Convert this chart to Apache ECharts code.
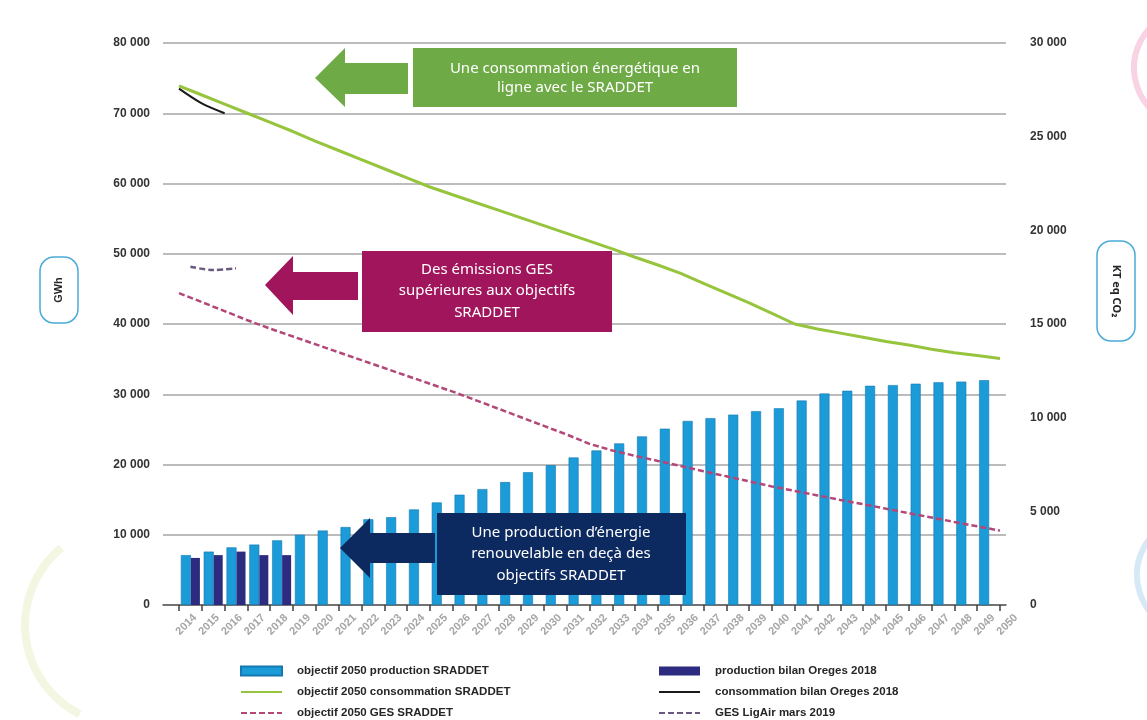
<!DOCTYPE html>
<html>
<head>
<meta charset="utf-8">
<script src="https://cdn.jsdelivr.net/npm/echarts@6.0.0/dist/echarts.min.js"></script>
<style>
  html, body { margin: 0; padding: 0; background: #ffffff; }
  #chart { width: 1147px; height: 720px; }
</style>
</head>
<body>
<div id="chart"></div>
<script>
// ---------- DATA ----------
const years = ['2014','2015','2016','2017','2018','2019','2020','2021','2022','2023','2024','2025','2026','2027','2028','2029','2030','2031','2032','2033','2034','2035','2036','2037','2038','2039','2040','2041','2042','2043','2044','2045','2046','2047','2048','2049','2050'];
const barYears = ['2014','2015','2016','2017','2018','2019','2020','2021','2022','2023','2024','2025','2026','2027','2028','2029','2030','2031','2032','2033','2034','2035','2036','2037','2038','2039','2040','2041','2042','2043','2044','2045','2046','2047','2048','2049'];
// GWh
const prodObjectif = [7100, 7600, 8200, 8600, 9200, 10000, 10600, 11100, 12200, 12500, 13600, 14600, 15700, 16500, 17500, 18900, 19900, 21000, 22000, 23000, 24000, 25100, 26200, 26600, 27100, 27600, 28000, 29100, 30100, 30500, 31200, 31300, 31500, 31700, 31800, 32000];
const prodBilan = [6700, 7100, 7600, 7100, 7100];
const consoObjectif = [73900, 72600, 71300, 70000, 68700, 67400, 66000, 64700, 63400, 62100, 60800, 59500, 58400, 57300, 56200, 55100, 54000, 52900, 51800, 50700, 49500, 48400, 47200, 45800, 44400, 43000, 41500, 40000, 39300, 38700, 38100, 37500, 37000, 36400, 35900, 35500, 35100];
const consoBilan = [73500, 71400, 70000];
// KT eq CO2
const gesObjectif = [16650, 16170, 15690, 15200, 14750, 14330, 13910, 13490, 13070, 12650, 12230, 11810, 11390, 10940, 10480, 10020, 9560, 9100, 8600, 8250, 7960, 7690, 7420, 7140, 6870, 6600, 6330, 6090, 5850, 5610, 5380, 5140, 4900, 4670, 4430, 4200, 3970];
const gesLigAir = [18060, 17880, 17970];

const seriesNames = {
  prodObj: 'objectif 2050 production SRADDET',
  consoObj: 'objectif 2050 consommation SRADDET',
  gesObj: 'objectif 2050 GES SRADDET',
  prodBil: 'production bilan Oreges 2018',
  consoBil: 'consommation bilan Oreges 2018',
  gesLig: 'GES LigAir mars 2019'
};

// ---------- CHART ----------
const fmt = v => String(v).replace(/\B(?=(\d{3})+(?!\d))/g, ' ');
const chart = echarts.init(document.getElementById('chart'), null, { renderer: 'canvas' });

const TOP = 43, HEIGHT = 562;
const legendText = { fontFamily: '"Liberation Sans Narrow", "Arial Narrow", "Liberation Sans", sans-serif', fontWeight: 'bold', fontSize: 11.5, color: '#262626', lineHeight: 14, padding: [0, 0, 0, 10] };
const boxText = { fontFamily: '"Noto Sans", sans-serif', fontSize: 15, fill: '#ffffff', align: 'center', verticalAlign: 'middle' };
const noSymbol = { opacity: 0 };

const option = {
  backgroundColor: '#ffffff',
  animation: false,
  grid: [
    { left: 163, width: 843, top: TOP, height: HEIGHT },   // gridlines & visible y axes
    { left: 179, width: 821, top: TOP, height: HEIGHT },   // data
    { left: 195, width: 821, top: TOP, height: HEIGHT }    // x labels
  ],
  xAxis: [
    { gridIndex: 0, type: 'value', min: 0, max: 1,
      axisLine: { show: true, onZero: false, lineStyle: { color: '#595959', width: 1.5 } },
      axisTick: { show: false }, axisLabel: { show: false }, splitLine: { show: false } },
    { gridIndex: 1, type: 'category', data: years, boundaryGap: false,
      axisLine: { show: false },
      axisTick: { show: true, interval: 0, length: 6, lineStyle: { color: '#404040', width: 1.5 } },
      axisLabel: { show: false }, splitLine: { show: false } },
    { gridIndex: 1, type: 'category', data: barYears, boundaryGap: true, show: false },
    { gridIndex: 2, type: 'category', data: years, boundaryGap: false,
      axisLine: { show: false }, axisTick: { show: false }, splitLine: { show: false },
      axisLabel: { show: true, interval: 0, rotate: 45, margin: 11, color: '#a6a6a6', fontWeight: 'bold', fontSize: 11, fontFamily: '"Liberation Sans", Arial, sans-serif' } }
  ],
  yAxis: [
    { gridIndex: 0, type: 'value', position: 'left', min: 0, max: 80000, interval: 10000,
      axisLine: { show: false }, axisTick: { show: false },
      splitLine: { show: true, lineStyle: { color: '#a6a6a6', width: 1.5 } },
      axisLabel: { margin: 13, color: '#333333', fontWeight: 'bold', fontSize: 12, fontFamily: '"Liberation Sans", Arial, sans-serif', formatter: fmt } },
    { gridIndex: 0, type: 'value', position: 'right', min: 0, max: 30000, interval: 5000,
      axisLine: { show: false }, axisTick: { show: false }, splitLine: { show: false },
      axisLabel: { margin: 24, color: '#333333', fontWeight: 'bold', fontSize: 12, fontFamily: '"Liberation Sans", Arial, sans-serif', formatter: fmt } },
    { gridIndex: 1, type: 'value', min: 0, max: 80000, show: false, splitLine: { show: false } },
    { gridIndex: 1, type: 'value', min: 0, max: 30000, show: false, splitLine: { show: false } },
    { gridIndex: 2, type: 'value', min: 0, max: 1, show: false, splitLine: { show: false } }
  ],
  legend: [
    { orient: 'vertical', left: 240, top: 664, height: 56, padding: 0, itemWidth: 41, itemHeight: 9, itemGap: 7, selectedMode: false,
      textStyle: legendText,
      data: [ { name: seriesNames.prodObj, icon: 'rect' },
              { name: seriesNames.consoObj, itemStyle: noSymbol },
              { name: seriesNames.gesObj, itemStyle: noSymbol } ] },
    { orient: 'vertical', left: 658, top: 664, height: 56, padding: 0, itemWidth: 41, itemHeight: 9, itemGap: 7, selectedMode: false,
      textStyle: legendText,
      data: [ { name: seriesNames.prodBil, icon: 'rect' },
              { name: seriesNames.consoBil, itemStyle: noSymbol },
              { name: seriesNames.gesLig, itemStyle: noSymbol } ] }
  ],
  series: [
    { name: seriesNames.prodObj, type: 'bar', xAxisIndex: 2, yAxisIndex: 2, data: prodObjectif,
      barWidth: 10, barGap: '0%',
      itemStyle: { color: '#1b9bd8', borderColor: '#1479b0', borderWidth: 0.6 } },
    { name: seriesNames.prodBil, type: 'bar', xAxisIndex: 2, yAxisIndex: 2, data: prodBilan,
      barWidth: 9, barGap: '0%',
      itemStyle: { color: '#2d2b80' } },
    { name: seriesNames.consoObj, type: 'line', xAxisIndex: 1, yAxisIndex: 2, data: consoObjectif,
      symbol: 'none', z: 5,
      lineStyle: { color: '#96c43c', width: 3 }, itemStyle: { color: '#96c43c' } },
    { name: seriesNames.consoBil, type: 'line', xAxisIndex: 1, yAxisIndex: 2, data: consoBilan,
      symbol: 'none', smooth: 0.3, z: 6,
      lineStyle: { color: '#1a1a1a', width: 2 }, itemStyle: { color: '#1a1a1a' } },
    { name: seriesNames.gesObj, type: 'line', xAxisIndex: 1, yAxisIndex: 3, data: gesObjectif,
      symbol: 'none', z: 5,
      lineStyle: { color: '#b34777', width: 2.5, type: [6, 3] }, itemStyle: { color: '#b34777' } },
    { name: seriesNames.gesLig, type: 'line', xAxisIndex: 2, yAxisIndex: 3, data: gesLigAir,
      symbol: 'none', smooth: 0.3, z: 5,
      lineStyle: { color: '#6b5880', width: 2.5, type: [6, 3] }, itemStyle: { color: '#6b5880' } }
  ],
  graphic: [
    // faint background decorations
    { type: 'arc', silent: true, z: -10, shape: { cx: 1192, cy: 68, r: 58, startAngle: Math.PI * 0.65, endAngle: Math.PI * 1.35 }, style: { stroke: '#f8d3e3', lineWidth: 6, fill: null } },
    { type: 'arc', silent: true, z: -10, shape: { cx: 1195, cy: 575, r: 58, startAngle: Math.PI * 0.65, endAngle: Math.PI * 1.35 }, style: { stroke: '#d6e9f6', lineWidth: 6, fill: null } },
    { type: 'arc', silent: true, z: -10, shape: { cx: 125, cy: 625, r: 100, startAngle: Math.PI * 0.65, endAngle: Math.PI * 1.28 }, style: { stroke: '#f3f6e0', lineWidth: 8, fill: null } },

    // axis title boxes
    { type: 'rect', z: 10, shape: { x: 40, y: 257, width: 38, height: 66, r: 14 }, style: { fill: '#ffffff', stroke: '#4aabd8', lineWidth: 1.5 } },
    { type: 'text', z: 11, x: 59, y: 290, rotation: Math.PI / 2, style: { text: 'GWh', fontFamily: '"Liberation Sans", Arial, sans-serif', fontWeight: 'bold', fontSize: 11, fill: '#262626', align: 'center', verticalAlign: 'middle' } },
    { type: 'rect', z: 10, shape: { x: 1097, y: 241, width: 38, height: 100, r: 14 }, style: { fill: '#ffffff', stroke: '#4aabd8', lineWidth: 1.5 } },
    { type: 'text', z: 11, x: 1116, y: 291, rotation: -Math.PI / 2, style: { text: 'KT eq CO\u2082', fontFamily: '"Noto Sans", sans-serif', fontWeight: 'bold', fontSize: 11, fill: '#262626', align: 'center', verticalAlign: 'middle' } },

    // green annotation
    { type: 'polygon', z: 20, shape: { points: [[315, 78], [345, 48], [345, 63], [408, 63], [408, 94], [345, 94], [345, 107]] }, style: { fill: '#6eaa45' } },
    { type: 'rect', z: 20, shape: { x: 413, y: 48, width: 324, height: 59 }, style: { fill: '#6eaa45' } },
    { type: 'text', z: 21, x: 575, y: 78, style: Object.assign({ text: 'Une consommation énergétique en\nligne avec le SRADDET', lineHeight: 19 }, boxText) },

    // magenta annotation
    { type: 'polygon', z: 20, shape: { points: [[265, 285], [293, 256], [293, 272], [358, 272], [358, 300], [293, 300], [293, 315]] }, style: { fill: '#a0155b' } },
    { type: 'rect', z: 20, shape: { x: 362, y: 251, width: 250, height: 81 }, style: { fill: '#a0155b' } },
    { type: 'text', z: 21, x: 487, y: 291, style: Object.assign({ text: 'Des émissions GES\nsupérieures aux objectifs\nSRADDET', lineHeight: 21.5 }, boxText) },

    // navy annotation
    { type: 'polygon', z: 20, shape: { points: [[340, 548], [370, 518], [370, 533], [435, 533], [435, 563], [370, 563], [370, 578]] }, style: { fill: '#0c2a60' } },
    { type: 'rect', z: 20, shape: { x: 437, y: 513, width: 249, height: 82 }, style: { fill: '#0c2a60' } },
    { type: 'text', z: 21, x: 561, y: 554, style: Object.assign({ text: 'Une production d\u2019énergie\nrenouvelable en deçà des\nobjectifs SRADDET', lineHeight: 21.5 }, boxText) }
  ]
};
chart.setOption(option);
</script>
</body>
</html>
